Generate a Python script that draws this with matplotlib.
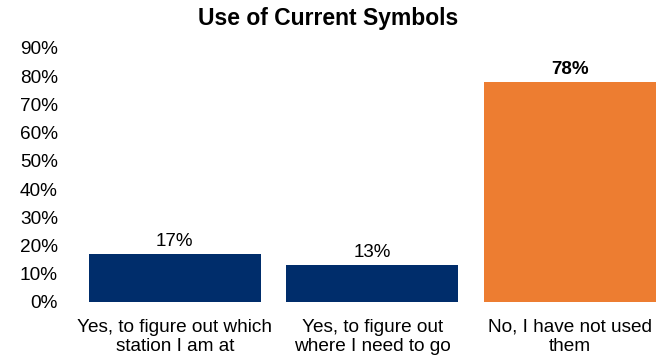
import matplotlib
matplotlib.use("Agg")
import matplotlib.pyplot as plt
from matplotlib.ticker import PercentFormatter

plt.rcParams['font.family'] = ['Liberation Sans', 'DejaVu Sans']

categories = ["Yes, to figure out which\nstation I am at",
              "Yes, to figure out\nwhere I need to go",
              "No, I have not used\nthem"]
values = [0.17, 0.13, 0.78]
labels = ["17%", "13%", "78%"]
bold = [False, False, True]
colors = ["#002D6B", "#002D6B", "#ED7D31"]
yticks = [0, 0.1, 0.2, 0.3, 0.4, 0.5, 0.6, 0.7, 0.8, 0.9]

fig = plt.figure(figsize=(6.56, 3.58), dpi=100)
ax = fig.add_axes([76/656, 56/358, 580/656, 254/358])
x = range(len(categories))
ax.bar(x, values, width=0.87, color=colors)
for xi, v, lab, b in zip(x, values, labels, bold):
    ax.annotate(lab, (xi, v), xytext=(0, 3), textcoords="offset points",
                ha="center", va="bottom", fontsize=13.5,
                fontweight="bold" if b else "normal", color="black")
ax.set_xlim(-0.5, 2.437)
ax.set_ylim(0, 0.9)
ax.set_yticks(yticks)
ax.yaxis.set_major_formatter(PercentFormatter(1.0, decimals=0))
ax.set_xticks(list(x))
ax.set_xticklabels(categories, fontsize=13.7, linespacing=1.2)
ax.tick_params(axis='y', length=0, pad=13, labelsize=13.7)
ax.tick_params(axis='x', length=0, pad=12)
for s in ax.spines.values():
    s.set_visible(False)
fig.text(0.5, 1 - 19/358, "Use of Current Symbols", ha="center", va="center",
         fontsize=16.5, fontweight="bold")
fig.savefig("out.png", dpi=100)
